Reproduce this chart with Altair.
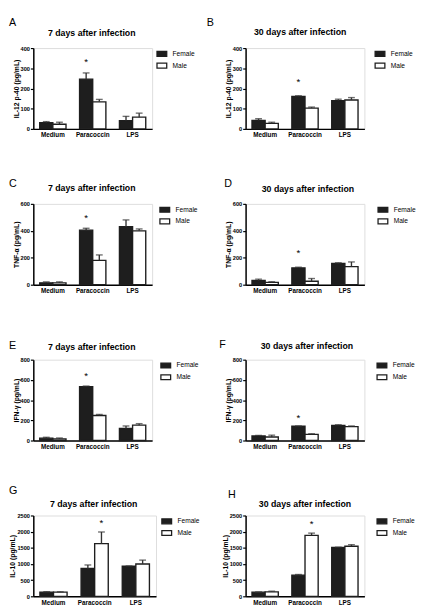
import altair as alt
import pandas as pd

FONT = "Liberation Sans"
BLACK = "#1e1e1e"
ERR = "#333333"

categories = ["Medium", "Paracoccin", "LPS"]
sexes = ["Female", "Male"]

# Panel A: IL-12 p-40, 7 days
a_female = [31, 246, 41]
a_female_err = [5, 31, 21]
a_male = [23, 134, 58]
a_male_err = [10, 12, 20]
# Panel B: IL-12 p-40, 30 days
b_female = [42, 161, 140]
b_female_err = [8, 3, 7]
b_male = [27, 103, 143]
b_male_err = [6, 5, 12]
# Panel C: TNF-a, 7 days
c_female = [14, 405, 431]
c_female_err = [7, 14, 50]
c_male = [14, 181, 400]
c_male_err = [7, 40, 14]
# Panel D: TNF-a, 30 days
d_female = [31, 125, 158]
d_female_err = [10, 5, 5]
d_male = [17, 26, 134]
d_male_err = [5, 20, 35]
# Panel E: IFN-g, 7 days
e_female = [23, 532, 119]
e_female_err = [9, 7, 25]
e_male = [16, 248, 152]
e_male_err = [9, 10, 15]
# Panel F: IFN-g, 30 days
f_female = [45, 141, 150]
f_female_err = [6, 3, 6]
f_male = [35, 61, 138]
f_male_err = [18, 6, 6]
# Panel G: IL-10, 7 days
g_female = [130, 860, 930]
g_female_err = [10, 110, 8]
g_male = [130, 1630, 1000]
g_male_err = [10, 360, 120]
# Panel H: IL-10, 30 days
h_female = [129, 655, 1510]
h_female_err = [5, 20, 10]
h_male = [139, 1885, 1548]
h_male_err = [20, 70, 50]

letters = ["A", "B", "C", "D", "E", "F", "G", "H"]
titles = ["7 days after infection", "30 days after infection"] * 4
y_titles = ["IL-12 p-40 (pg/mL)", "IL-12 p-40 (pg/mL)",
            "TNF-\u03b1 (pg/mL)", "TNF-\u03b1 (pg/mL)",
            "IFN-\u03b3 (pg/mL)", "IFN-\u03b3 (pg/mL)",
            "IL-10 (pg/mL)", "IL-10 (pg/mL)"]
y_max = [400, 400, 600, 600, 800, 800, 2500, 2500]
y_ticks = [[0, 100, 200, 300, 400], [0, 100, 200, 300, 400],
           [0, 200, 400, 600], [0, 200, 400, 600],
           [0, 200, 400, 600, 800], [0, 200, 400, 600, 800],
           [0, 500, 1000, 1500, 2000, 2500], [0, 500, 1000, 1500, 2000, 2500]]
star_sex = ["Female", "Female", "Female", "Female", "Female", "Female", "Male", "Male"]
star_y = [340, 240, 510, 250, 655, 240, 2330, 2290]

panel_data = [
    (a_female, a_female_err, a_male, a_male_err),
    (b_female, b_female_err, b_male, b_male_err),
    (c_female, c_female_err, c_male, c_male_err),
    (d_female, d_female_err, d_male, d_male_err),
    (e_female, e_female_err, e_male, e_male_err),
    (f_female, f_female_err, f_male, f_male_err),
    (g_female, g_female_err, g_male, g_male_err),
    (h_female, h_female_err, h_male, h_male_err),
]

# layout (pixels, relative to each plot area)
widths = [122, 122, 122, 122, 122, 122, 126, 122]
legend_offset = [4, 10, 7, 13, 8, 12, 5, 12]
letter_dx = [-25, -40, -25, -22, -25, -27, -25, -18]
letter_top = [-32, -32, -26, -26, -20, -21, -31, -27]
title_cx = [60, 56, 60, 64, 60, 63, 62, 61]
title_dy = [-15, -16, -16, -15, -13, -14, -12, -12]
HEIGHT = 83


def make_panel(i):
    f, fe, m, me = panel_data[i]
    rows = []
    for k, c in enumerate(categories):
        rows.append({"cat": c, "sex": "Female", "mean": f[k], "upper": f[k] + fe[k]})
        rows.append({"cat": c, "sex": "Male", "mean": m[k], "upper": m[k] + me[k]})
    df = pd.DataFrame(rows)

    x_axis = alt.Axis(title=None, labelAngle=0, ticks=False, domainColor="black",
                      domainWidth=1.5, labelFont=FONT, labelFontSize=6.5,
                      labelFontWeight="bold", labelColor="black", labelPadding=3)
    x_scale = alt.Scale(domain=categories, paddingInner=0.34, paddingOuter=0.16)
    y_axis = alt.Axis(title=y_titles[i], values=y_ticks[i], format="d", grid=False,
                      domainColor="black", domainWidth=1.5, tickColor="black",
                      tickWidth=1.2, tickSize=3, labelFont=FONT, labelFontSize=5.8,
                      labelFontWeight="bold", labelColor="black", labelPadding=1,
                      titleFont=FONT, titleFontSize=7, titleFontWeight="bold",
                      titleColor="black", titlePadding=1)
    y_scale = alt.Scale(domain=[0, y_max[i]], nice=False, zero=True)
    xo_scale = alt.Scale(domain=sexes, paddingInner=0, paddingOuter=0)

    def X():
        return alt.X("cat:N", sort=categories, scale=x_scale, axis=x_axis)

    def XO():
        return alt.XOffset("sex:N", sort=sexes, scale=xo_scale)

    def Y(field):
        return alt.Y(field, scale=y_scale, axis=y_axis)

    base = alt.Chart(df)
    bars = base.mark_bar(stroke=BLACK, strokeWidth=1.4).encode(
        x=X(), xOffset=XO(), y=Y("mean:Q"),
        fill=alt.Fill("sex:N", sort=sexes,
                      scale=alt.Scale(domain=sexes, range=[BLACK, "white"]),
                      legend=alt.Legend(title=None, orient="right", offset=legend_offset[i],
                                        symbolType="M-1,-0.5H1V0.5H-1Z", symbolSize=100,
                                        symbolStrokeColor=BLACK, symbolStrokeWidth=1.3,
                                        labelFont=FONT, labelFontSize=6.8, labelColor="black",
                                        labelOffset=5, rowPadding=0, padding=0)))
    err = base.mark_rule(color=ERR, strokeWidth=1.4).encode(
        x=X(), xOffset=XO(), y=Y("mean:Q"), y2="upper:Q")
    cap = base.mark_tick(color=ERR, thickness=1.4, size=7).encode(
        x=X(), xOffset=XO(), y=Y("upper:Q"))

    star_df = pd.DataFrame({"cat": ["Paracoccin"], "sex": [star_sex[i]],
                            "y": [star_y[i]], "s": ["*"]})
    star = alt.Chart(star_df).mark_text(font=FONT, fontSize=10, baseline="middle",
                                        dy=2, color="black").encode(
        x=X(), xOffset=XO(), y=Y("y:Q"), text="s:N")

    letter = alt.Chart(pd.DataFrame({"t": [letters[i]]})).mark_text(
        font=FONT, fontSize=11, align="left", baseline="top", color="black").encode(
        x=alt.value(letter_dx[i]), y=alt.value(letter_top[i]), text="t:N")
    title = alt.Chart(pd.DataFrame({"t": [titles[i]]})).mark_text(
        font=FONT, fontSize=9, fontWeight="bold", align="center", baseline="middle",
        color="black").encode(
        x=alt.value(title_cx[i]), y=alt.value(title_dy[i]), text="t:N")

    return alt.layer(bars, err, cap, star, letter, title).properties(
        width=widths[i], height=HEIGHT)


panels = [make_panel(i) for i in range(8)]

chart = alt.concat(*panels, columns=2, spacing={"row": 77, "column": 92},
                   bounds="flush").resolve_scale(
    fill="independent", x="independent", y="independent", xOffset="independent"
).properties(
    padding=0
).configure_view(strokeWidth=0).configure(font=FONT, background="white", padding=0)

chart.save("out.html", embed_options={"renderer": "svg", "actions": False})
